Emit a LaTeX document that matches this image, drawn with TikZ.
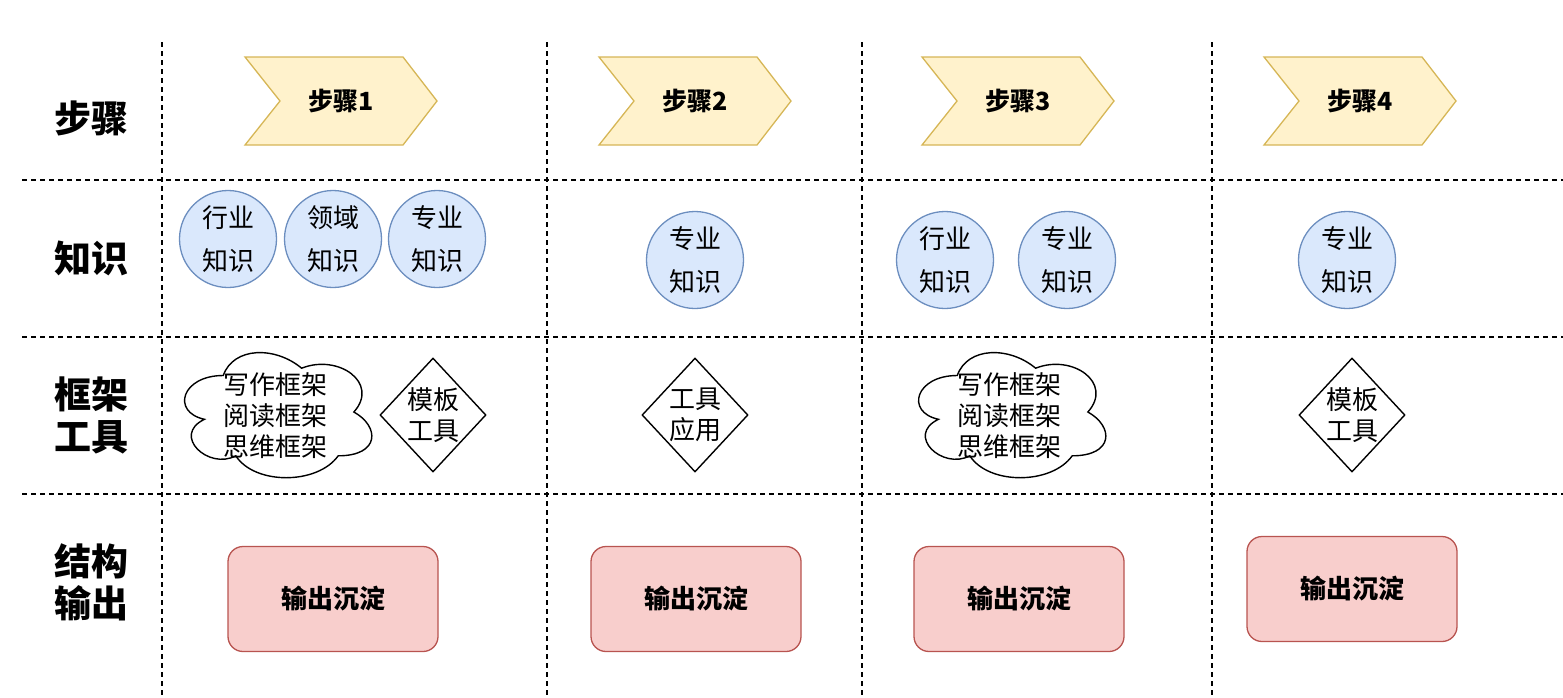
\documentclass[tikz,border=0pt]{standalone}
\usepackage{fontspec}
\setmainfont{Noto Sans CJK SC}
\usetikzlibrary{shapes.geometric}
\definecolor{yfill}{HTML}{FFF2CC}
\definecolor{ydraw}{HTML}{D6B656}
\definecolor{bfill}{HTML}{DAE8FC}
\definecolor{bdraw}{HTML}{6C8EBF}
\definecolor{rfill}{HTML}{F8CECC}
\definecolor{rdraw}{HTML}{B85450}
\tikzset{
  grid/.style={draw=black, line width=1.3pt, dash pattern=on 4.5pt off 4.5pt},
  rowlabel/.style={font=\fontsize{37}{42}\selectfont\bfseries, align=center},
  chevtext/.style={font=\fontsize{25}{28}\selectfont\bfseries},
  knowcircle/.style={circle, draw=bdraw, fill=bfill, line width=1.3pt, minimum size=97pt, inner sep=0pt, align=center, font=\fontsize{26}{43}\selectfont},
  cloudline/.style={draw=black, fill=white, line width=1.4pt},
  cloudtext/.style={inner sep=0pt, align=center, font=\fontsize{26}{31}\selectfont},
  toolbox/.style={diamond, draw=black, line width=1.4pt, minimum width=106pt, minimum height=114pt, inner sep=0pt, aspect=0.93, align=center, font=\fontsize{26}{31}\selectfont},
  outbox/.style={rectangle, rounded corners=15pt, draw=rdraw, fill=rfill, line width=1.3pt, minimum width=210pt, minimum height=105pt, font=\fontsize{26}{30}\selectfont\bfseries},
}
\newcommand{\mychev}[3]{%
  \fill[yfill, draw=ydraw, line width=1.3pt] (#1,57) -- (#1+158,57) -- (#1+192,101) -- (#1+158,145) -- (#1,145) -- (#1+35,101) -- cycle;
  \node[chevtext] (#3) at (#1+96,101) {#2};
}
% draw.io style cloud: x0, y0, w, h
\newcommand{\mycloud}[4]{%
  \path[cloudline] ({#1+0.25*#3},{#2+0.25*#4})
    .. controls ({#1+0.05*#3},{#2+0.25*#4}) and ({#1},{#2+0.5*#4}) .. ({#1+0.16*#3},{#2+0.55*#4})
    .. controls ({#1},{#2+0.66*#4}) and ({#1+0.18*#3},{#2+0.9*#4}) .. ({#1+0.31*#3},{#2+0.8*#4})
    .. controls ({#1+0.4*#3},{#2+#4}) and ({#1+0.7*#3},{#2+#4}) .. ({#1+0.8*#3},{#2+0.8*#4})
    .. controls ({#1+#3},{#2+0.8*#4}) and ({#1+#3},{#2+0.6*#4}) .. ({#1+0.875*#3},{#2+0.5*#4})
    .. controls ({#1+#3},{#2+0.3*#4}) and ({#1+0.8*#3},{#2+0.1*#4}) .. ({#1+0.625*#3},{#2+0.2*#4})
    .. controls ({#1+0.5*#3},{#2+0.05*#4}) and ({#1+0.3*#3},{#2+0.05*#4}) .. ({#1+0.25*#3},{#2+0.25*#4})
    -- cycle;
}
\begin{document}
\begin{tikzpicture}[x=1pt, y=-1pt]
\useasboundingbox (0,0) rectangle (1563,697);
% grid lines
\coordinate (v1t) at (162,42); \coordinate (v1b) at (162,697);
\coordinate (v2t) at (547,42); \coordinate (v2b) at (547,697);
\coordinate (v3t) at (862,42); \coordinate (v3b) at (862,697);
\coordinate (v4t) at (1212,42); \coordinate (v4b) at (1212,697);
\coordinate (h1l) at (22,180); \coordinate (h1r) at (1563,180);
\coordinate (h2l) at (22,337); \coordinate (h2r) at (1563,337);
\coordinate (h3l) at (22,494); \coordinate (h3r) at (1563,494);
\draw[grid] (v1t) -- (v1b);
\draw[grid] (v2t) -- (v2b);
\draw[grid] (v3t) -- (v3b);
\draw[grid] (v4t) -- (v4b);
\draw[grid] (h1l) -- (h1r);
\draw[grid] (h2l) -- (h2r);
\draw[grid] (h3l) -- (h3r);
% row labels
\node[rowlabel] (r1) at (91,118) {步骤};
\node[rowlabel] (r2) at (91,258) {知识};
\node[rowlabel] (r3) at (91,415) {框架\\工具};
\node[rowlabel] (r4) at (91,582) {结构\\输出};
% chevrons
\mychev{245}{步骤1}{s1}
\mychev{599}{步骤2}{s2}
\mychev{922}{步骤3}{s3}
\mychev{1264}{步骤4}{s4}
% knowledge
\node[knowcircle] (k11) at (228,239) {行业\\知识};
\node[knowcircle] (k12) at (333,239) {领域\\知识};
\node[knowcircle] (k13) at (437,239) {专业\\知识};
\node[knowcircle] (k21) at (695,260) {专业\\知识};
\node[knowcircle] (k31) at (945,260) {行业\\知识};
\node[knowcircle] (k32) at (1067,260) {专业\\知识};
\node[knowcircle] (k41) at (1347,260) {专业\\知识};
% frameworks
\mycloud{171}{339}{209}{146}
\node[cloudtext] (f11) at (275,416) {写作框架\\阅读框架\\思维框架};
\node[toolbox] (f12) at (433,415) {模板\\工具};
\node[toolbox] (f21) at (695,415) {工具\\应用};
\mycloud{905}{339}{209}{146}
\node[cloudtext] (f31) at (1009,416) {写作框架\\阅读框架\\思维框架};
\node[toolbox] (f41) at (1352,415) {模板\\工具};
% outputs
\node[outbox] (o1) at (333,599) {输出沉淀};
\node[outbox] (o2) at (696,599) {输出沉淀};
\node[outbox] (o3) at (1019,599) {输出沉淀};
\node[outbox] (o4) at (1352,589) {输出沉淀};
\end{tikzpicture}
\end{document}
